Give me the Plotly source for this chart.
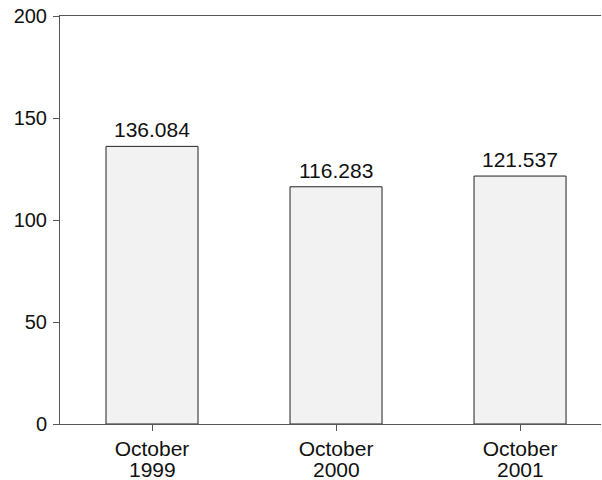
import plotly.graph_objects as go

# data
categories = ["Oct 1999", "Oct 2000", "Oct 2001"]
months = ["October", "October", "October"]
years = ["1999", "2000", "2001"]
values = [136.084, 116.283, 121.537]
labels = ["136.084", "116.283", "121.537"]
y_ticks = [0, 50, 100, 150, 200]

fig = go.Figure()

fig.add_trace(go.Bar(
    x=categories,
    y=values,
    width=0.5,
    marker=dict(color="#f2f2f2", line=dict(color="#222222", width=1)),
    hoverinfo="skip",
))

# value labels above bars
for cat, v, lab in zip(categories, values, labels):
    fig.add_annotation(
        x=cat, y=v, xref="x", yref="y",
        text=lab, showarrow=False,
        yanchor="bottom", yshift=3,
        font=dict(size=21, color="#111111"),
    )

# second line of the category labels (year), kept tight under the month
for cat, yr in zip(categories, years):
    fig.add_annotation(
        x=cat, y=0, xref="x", yref="y",
        text=yr, showarrow=False,
        yanchor="top", yshift=-32,
        font=dict(size=21, color="#111111"),
    )

fig.update_layout(
    width=602,
    height=480,
    margin=dict(l=60, r=1, t=16, b=56),
    paper_bgcolor="white",
    plot_bgcolor="white",
    font=dict(family="Arial, Liberation Sans, sans-serif", size=21, color="#111111"),
    showlegend=False,
)

fig.update_xaxes(
    range=[-0.5, 2.44],
    tickvals=categories,
    ticktext=months,
    showline=True,
    linecolor="#555555",
    linewidth=1,
    mirror=True,
    ticks="outside",
    ticklen=6,
    tickcolor="#555555",
    showgrid=False,
    automargin=False,
    tickfont=dict(size=21),
)

fig.update_yaxes(
    range=[0, 200],
    tickvals=y_ticks,
    showline=True,
    linecolor="#555555",
    linewidth=1,
    ticks="outside",
    ticklen=6,
    tickcolor="#555555",
    ticklabelstandoff=2,
    showgrid=False,
    zeroline=False,
    automargin=False,
    tickfont=dict(size=20),
)

# drop the default 8px body margin so the figure sits at the window's corner
fig.write_html(
    "out.html",
    config={"displayModeBar": False},
    post_script="document.body.style.margin='0';",
)
